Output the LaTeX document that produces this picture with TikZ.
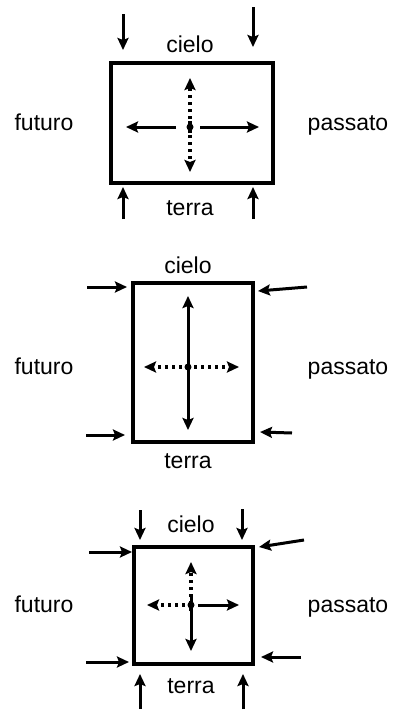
\documentclass[tikz,border=0pt]{standalone}
\usepackage{fontspec}
\setmainfont{Liberation Sans}
\usetikzlibrary{arrows.meta}
\begin{document}
\begin{tikzpicture}[x=1pt,y=-1pt,
  frame/.style={draw=black,line width=3.2pt,line join=miter},
  lbl/.style={font=\fontsize{23}{25}\selectfont,anchor=base,inner sep=0pt},
  pin/.style={line width=3pt,-{Stealth[length=12pt,width=11pt,inset=2pt]}},
  solidarr/.style={line width=3pt,-{Stealth[length=12pt,width=11pt,inset=2pt]}},
  dotarr/.style={line width=3.2pt,dash pattern=on 3pt off 4pt,-{Stealth[length=12pt,width=11pt,inset=2pt]}},
  hub/.style={circle,fill=black,inner sep=0pt,minimum size=7pt}]
\useasboundingbox (0,0) rectangle (392,710);

% ---------- first panel: forces from sky and earth ----------
\draw[frame] (111,63) rectangle (273,183);
\node[lbl] (c1) at (190,52) {cielo};
\node[lbl] (t1) at (190,215) {terra};
\node[lbl] (f1) at (44,130) {futuro};
\node[lbl] (p1) at (348,130) {passato};
\node[hub] (h1) at (190,127) {};
\coordinate (h1l) at (126,127); \coordinate (h1r) at (259,127);
\coordinate (h1u) at (190,78);  \coordinate (h1d) at (190,172);
\draw[solidarr] ([xshift=-14pt]h1.center) -- (h1l);
\draw[solidarr] ([xshift=10pt]h1.center) -- (h1r);
\draw[dotarr] ([yshift=-6pt]h1.center) -- (h1u);
\draw[dotarr] ([yshift=6pt]h1.center) -- (h1d);
\coordinate (a1s) at (123,14);  \coordinate (a1e) at (123,50);
\coordinate (b1s) at (253,7);   \coordinate (b1e) at (253,47);
\coordinate (d1s) at (123,219); \coordinate (d1e) at (123,187);
\coordinate (e1s) at (253,219); \coordinate (e1e) at (253,187);
\draw[pin] (a1s) -- (a1e);
\draw[pin] (b1s) -- (b1e);
\draw[pin] (d1s) -- (d1e);
\draw[pin] (e1s) -- (e1e);

% ---------- second panel: forces from future and past ----------
\draw[frame] (133,283) rectangle (253,442);
\node[lbl] (c2) at (188,273) {cielo};
\node[lbl] (t2) at (188,468) {terra};
\node[lbl] (f2) at (44,374) {futuro};
\node[lbl] (p2) at (348,374) {passato};
\node[hub] (h2) at (188,367) {};
\coordinate (h2l) at (144,367); \coordinate (h2r) at (239,367);
\coordinate (h2u) at (188,296); \coordinate (h2d) at (188,430);
\draw[dotarr] ([xshift=-6pt]h2.center) -- (h2l);
\draw[dotarr] ([xshift=6pt]h2.center) -- (h2r);
\draw[solidarr] ([yshift=-8pt]h2.center) -- (h2u);
\draw[solidarr] ([yshift=8pt]h2.center) -- (h2d);
\coordinate (a2s) at (87,287);  \coordinate (a2e) at (127,287);
\coordinate (b2s) at (307,287); \coordinate (b2e) at (258,291);
\coordinate (d2s) at (86,435);  \coordinate (d2e) at (125,435);
\coordinate (e2s) at (292,433); \coordinate (e2e) at (260,432);
\draw[pin] (a2s) -- (a2e);
\draw[pin] (b2s) -- (b2e);
\draw[pin] (d2s) -- (d2e);
\draw[pin] (e2s) -- (e2e);

% ---------- third panel: forces from all four sides ----------
\draw[frame] (134,547) rectangle (253,664);
\node[lbl] (c3) at (191,532) {cielo};
\node[lbl] (t3) at (191,693) {terra};
\node[lbl] (f3) at (44,612) {futuro};
\node[lbl] (p3) at (348,612) {passato};
\node[hub] (h3) at (191,605) {};
\coordinate (h3l) at (147,605); \coordinate (h3r) at (239,605);
\coordinate (h3u) at (191,562); \coordinate (h3d) at (191,651);
\draw[dotarr] ([xshift=-6pt]h3.center) -- (h3l);
\draw[solidarr] ([xshift=7pt]h3.center) -- (h3r);
\draw[dotarr] ([yshift=-6pt]h3.center) -- (h3u);
\draw[solidarr] ([yshift=8pt]h3.center) -- (h3d);
\coordinate (a3s) at (140,510); \coordinate (a3e) at (140,540);
\coordinate (b3s) at (242,509); \coordinate (b3e) at (242,540);
\coordinate (d3s) at (140,709); \coordinate (d3e) at (140,674);
\coordinate (e3s) at (243,709); \coordinate (e3e) at (243,674);
\coordinate (g3s) at (89,552);  \coordinate (g3e) at (132,552);
\coordinate (k3s) at (86,662);  \coordinate (k3e) at (129,662);
\coordinate (m3s) at (304,540); \coordinate (m3e) at (259,547);
\coordinate (n3s) at (301,657); \coordinate (n3e) at (261,657);
\draw[pin] (a3s) -- (a3e);
\draw[pin] (b3s) -- (b3e);
\draw[pin] (d3s) -- (d3e);
\draw[pin] (e3s) -- (e3e);
\draw[pin] (g3s) -- (g3e);
\draw[pin] (k3s) -- (k3e);
\draw[pin] (m3s) -- (m3e);
\draw[pin] (n3s) -- (n3e);
\end{tikzpicture}
\end{document}
